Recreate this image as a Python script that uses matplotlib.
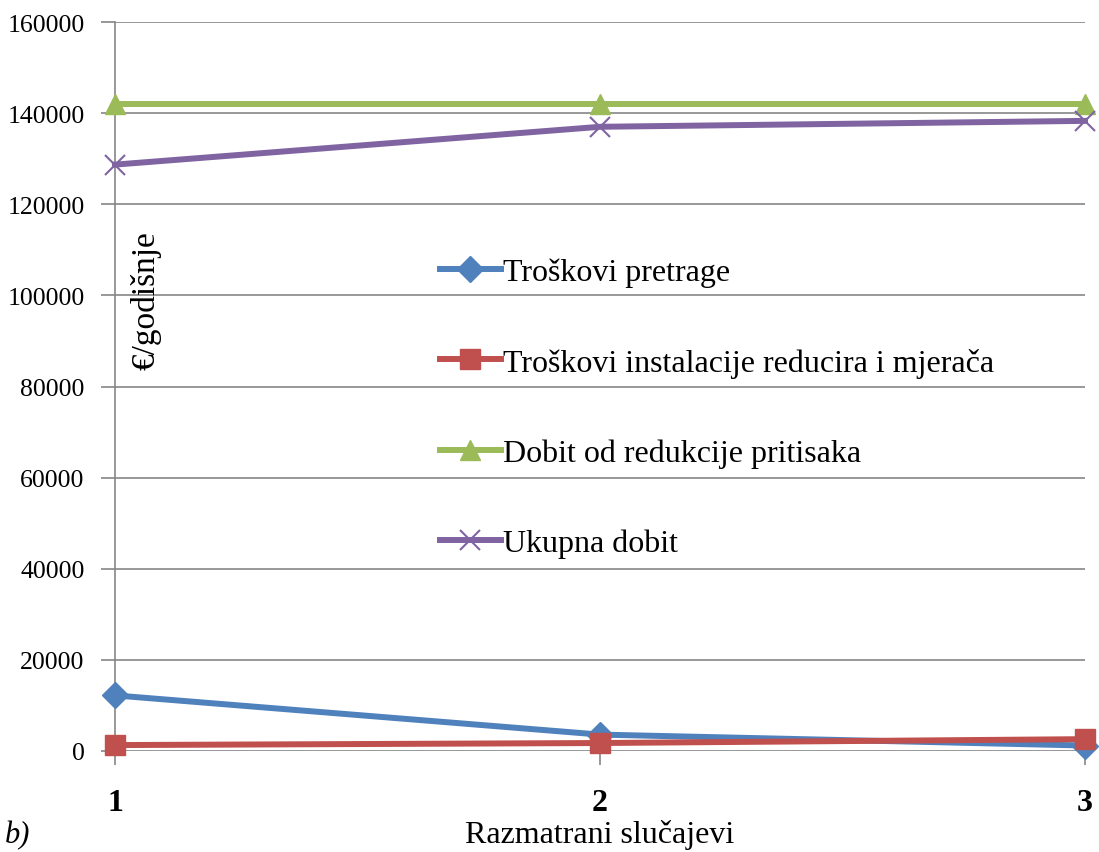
import numpy as np
import matplotlib.pyplot as plt

plt.rcParams["font.family"] = ["Liberation Serif", "DejaVu Serif"]

# podaci ocitani sa grafika
slucajevi = [1, 2, 3]
troskovi_pretrage = [12200, 3600, 1200]
troskovi_instalacije = [1300, 1750, 2600]
dobit_redukcije = [142000, 142000, 142000]
ukupna_dobit = [128700, 137000, 138300]

serije = [
    ("Troškovi pretrage", troskovi_pretrage, "#4F81BD", "D", 13),
    ("Troškovi instalacije reducira i mjerača", troskovi_instalacije, "#C0504D", "s", 15),
    ("Dobit od redukcije pritisaka", dobit_redukcije, "#9BBB59", "^", 15),
    ("Ukupna dobit", ukupna_dobit, "#8064A2", "x", 15),
]

W, H = 1099, 853
fig = plt.figure(figsize=(W / 100, H / 100), dpi=100)
ax = fig.add_axes([115 / W, (H - 752) / H, (1085 - 115) / W, (752 - 23) / H])

for label, vals, col, mk, ms in serije:
    ax.plot(slucajevi, vals, color=col, lw=4.3, marker=mk, markersize=ms,
            markeredgewidth=1.5 if mk == "x" else 1, label=label, clip_on=False, zorder=3)

ax.set_xlim(1, 3)
ax.set_ylim(0, 160000)
ax.set_yticks(np.arange(0, 160001, 20000))
ax.set_xticks(slucajevi)
ax.set_xticklabels([str(s) for s in slucajevi], fontweight="bold", fontsize=23)
ax.tick_params(axis="x", length=10, width=1.2, color="#868686", pad=17)
ax.tick_params(axis="y", length=10, width=1.2, color="#868686", pad=12, labelsize=18.5)
ax.yaxis.grid(True, color="#868686", lw=1.2)
ax.set_axisbelow(True)
for s in ["top", "right"]:
    ax.spines[s].set_visible(False)
ax.spines["bottom"].set_visible(False)
ax.spines["left"].set_color("#868686")
ax.spines["left"].set_linewidth(1.2)

ax.set_xlabel("Razmatrani slučajevi", fontsize=23, labelpad=1)
ax.text(0.032, 0.619, "€/godišnje", rotation=90, fontsize=24,
        transform=ax.transAxes, ha="center", va="center")

ax.legend(loc="upper left", bbox_to_anchor=(0.335, 0.677), frameon=False, fontsize=23,
          labelspacing=1.9, handlelength=1.9, handletextpad=0.08,
          borderpad=0, borderaxespad=0)

fig.text(0.004, 0.003, "b)", fontsize=22, fontstyle="italic", ha="left", va="bottom")

fig.savefig("out.png", dpi=100)
